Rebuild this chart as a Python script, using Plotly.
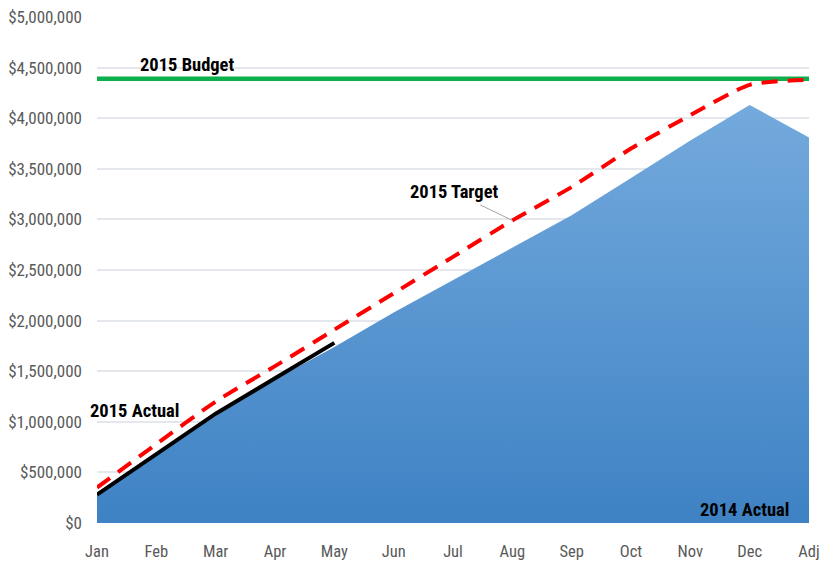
import plotly.graph_objects as go

months = ["Jan", "Feb", "Mar", "Apr", "May", "Jun", "Jul", "Aug", "Sep", "Oct", "Nov", "Dec", "Adj"]
actual_2014 = [280000, 670000, 1060000, 1420000, 1740000, 2080000, 2400000, 2720000,
               3040000, 3410000, 3780000, 4130000, 3810000]
target_2015 = [350000, 780000, 1200000, 1550000, 1910000, 2270000, 2630000, 2990000,
               3320000, 3700000, 4030000, 4330000, 4380000]
actual_2015 = [280000, 680000, 1080000, 1430000, 1780000]
budget_2015 = [4390000] * len(months)

label_font = dict(family="Roboto Condensed, Arial Narrow, sans-serif",
                  size=18.5, color="#000000")
tick_font = dict(family="Roboto Condensed, Arial Narrow, sans-serif",
                 size=17, color="#595959")
xtick_font = dict(tick_font, size=16.5)

fig = go.Figure()

# ── 2014 actual (shaded area) ────────────────────────────────
fig.add_trace(go.Scatter(
    x=months, y=actual_2014, mode="lines", name="2014 Actual",
    line=dict(width=0), fill="tozeroy",
    fillgradient=dict(type="vertical", colorscale=[[0, "#3e82c4"], [1, "#74aadd"]]),
))

# ── 2015 budget ──────────────────────────────────────────────
fig.add_trace(go.Scatter(
    x=months, y=budget_2015, mode="lines", name="2015 Budget",
    line=dict(color="#0bb04d", width=4.5),
))

# ── 2015 target ──────────────────────────────────────────────
fig.add_trace(go.Scatter(
    x=months, y=target_2015, mode="lines", name="2015 Target",
    line=dict(color="#ff0000", width=4, dash="16px,10px", shape="spline", smoothing=0.6),
))

# ── 2015 actual ──────────────────────────────────────────────
fig.add_trace(go.Scatter(
    x=months[:len(actual_2015)], y=actual_2015, mode="lines", name="2015 Actual",
    line=dict(color="#000000", width=4),
))

fig.add_annotation(x="Feb", y=budget_2015[0], text="<b>2015 Budget</b>", showarrow=False,
                   xanchor="center", yanchor="bottom", yshift=1, xshift=31, font=label_font)
fig.add_annotation(x="Aug", y=target_2015[7], text="<b>2015 Target</b>", showarrow=True,
                   arrowhead=0, arrowwidth=1, arrowcolor="#a6a6a6", ax=-58, ay=-28,
                   xanchor="center", font=label_font)
fig.add_annotation(x="Jan", y=1110000, text="<b>2015 Actual</b>", showarrow=False,
                   xanchor="left", yanchor="middle", xshift=-9, font=label_font)
fig.add_annotation(x="Adj", y=0, text="<b>2014 Actual</b>", showarrow=False,
                   xanchor="right", yanchor="bottom", xshift=-18, yshift=0, font=label_font)

fig.update_layout(
    width=820, height=563,
    margin=dict(l=97, r=11, t=17, b=40),
    paper_bgcolor="white", plot_bgcolor="white",
    showlegend=False,
    xaxis=dict(type="category", range=[0, 12], showgrid=False, showline=False,
               ticks="", tickfont=xtick_font, automargin=False, ticklabelstandoff=16,
               ticklabeloverflow="allow"),
    yaxis=dict(range=[0, 5000000], dtick=500000, tickprefix="$", tickformat=",.0f",
               showgrid=True, gridcolor="#e4e7ec", gridwidth=1.5, zeroline=False,
               showline=False, ticks="", tickfont=tick_font, ticklabelstandoff=14,
               automargin=False, ticklabeloverflow="allow"),
)

# drop the default page margin so the figure fills the window exactly
fig.write_html("out.html", config={"displayModeBar": False},
               post_script="document.body.style.margin = '0';")
